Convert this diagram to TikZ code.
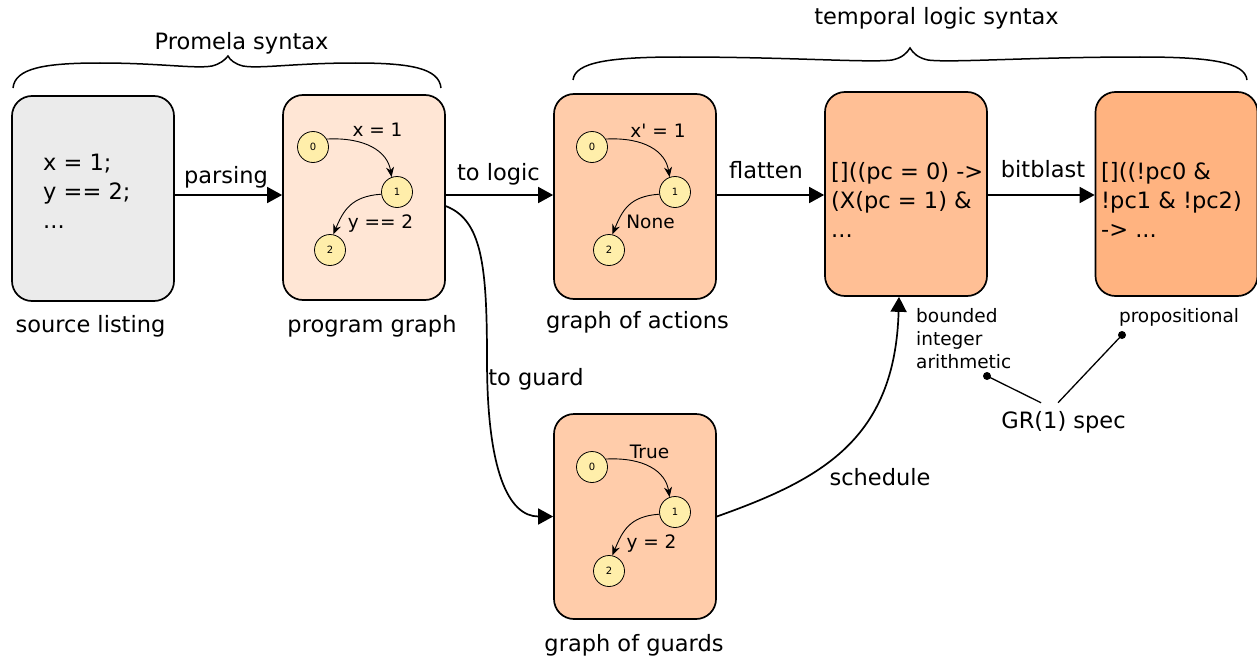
\documentclass[tikz,border=0pt]{standalone}
\usepackage{fontspec}
\setmainfont{DejaVu Sans}[Ligatures=TeXOff]
\usetikzlibrary{arrows.meta,calc}

\definecolor{greybox}{HTML}{EBEBEB}
\definecolor{peachA}{HTML}{FFE6D5}
\definecolor{peachB}{HTML}{FFCCAA}
\definecolor{peachC}{HTML}{FFBF95}
\definecolor{peachD}{HTML}{FFB380}
\definecolor{statefill}{HTML}{FFEEAA}

\begin{document}
\begin{tikzpicture}[x=1pt,y=-1pt,
  stage/.style={draw, line width=1.7pt, rounded corners=20pt,
    minimum width=162pt, minimum height=205pt, inner sep=0pt},
  bigfont/.style={font=\fontsize{22.5}{29}\selectfont},
  smallfont/.style={font=\fontsize{18.5}{23}\selectfont},
  lbl/.style={bigfont, inner sep=0pt, anchor=base},
  boxtext/.style={bigfont, inner sep=0pt, anchor=north west, align=left},
  glabel/.style={smallfont, inner sep=0pt, anchor=base},
  state/.style={circle, draw, line width=0.8pt, fill=statefill,
    minimum size=31pt, inner sep=0pt, font=\fontsize{10}{12}\selectfont},
  trans/.style={-{Stealth[length=10pt,width=8pt]}, line width=0.9pt},
  flow/.style={-{Triangle[length=15pt,width=16pt]}, line width=1.7pt},
  brace/.style={line width=1.5pt},
  pin/.style={line width=1.3pt}]

\useasboundingbox (0,0) rectangle (1257,661);

% processing stages
\node[stage, fill=greybox] (src)    at (93,198.5)  {};
\node[stage, fill=peachA]  (prog)   at (364,197.5) {};
\node[stage, fill=peachB]  (act)    at (635,196.5) {};
\node[stage, fill=peachC, minimum height=204pt] (flat) at (906,194) {};
\node[stage, fill=peachD, minimum height=204pt] (bits) at (1176.5,194) {};
\node[stage, fill=peachB]  (guards) at (635,516.5) {};

% contents of the text stages
\node[boxtext] (srctxt)  at (43,153.5) {x = 1;\\y == 2;\\...};
\node[boxtext] (flattxt) at (831,162)  {[]((pc = 0) ->\\(X(pc = 1) \&\\...};
\node[boxtext] (bitstxt) at (1101,162) {[]((!pc0 \&\\!pc1 \& !pc2)\\-> ...};

% program graph
\node[state] (pg0) at (313,147) {0};
\node[state] (pg1) at (397,192) {1};
\node[state] (pg2) at (330,250) {2};
\draw[trans] (pg0.30) .. controls +(38,-2) and +(-4,-26) .. (pg1.110);
\draw[trans] (pg1.188) .. controls +(-30,2) and +(10,-24) .. (pg2.78);
\node[glabel] (pgl1) at (377.5,136) {x = 1};
\node[glabel] (pgl2) at (380.5,228) {y == 2};

% graph of actions
\node[state] (ac0) at (592,147) {0};
\node[state] (ac1) at (675,192) {1};
\node[state] (ac2) at (609,250) {2};
\draw[trans] (ac0.30) .. controls +(38,-2) and +(-4,-26) .. (ac1.110);
\draw[trans] (ac1.188) .. controls +(-30,2) and +(10,-24) .. (ac2.78);
\node[glabel] (acl1) at (658,137) {x' = 1};
\node[glabel] (acl2) at (650.5,228) {None};

% graph of guards
\node[state] (gd0) at (592,467) {0};
\node[state] (gd1) at (675,512) {1};
\node[state] (gd2) at (609,571) {2};
\draw[trans] (gd0.30) .. controls +(38,-2) and +(-4,-26) .. (gd1.110);
\draw[trans] (gd1.188) .. controls +(-30,2) and +(10,-24) .. (gd2.78);
\node[glabel] (gdl1) at (649.5,458) {True};
\node[glabel] (gdl2) at (651.5,548) {y = 2};

% stage captions
\node[lbl] (capsrc)  at (90.5,332)  {source listing};
\node[lbl] (capprog) at (372,332)   {program graph};
\node[lbl] (capact)  at (637.5,328) {graph of actions};
\node[lbl] (capgd)   at (634,651)   {graph of guards};

% main pipeline
\coordinate (row) at (0,195);
\draw[flow] (src.east |- row)  -- (prog.west |- row);
\draw[flow] (prog.east |- row) -- (act.west |- row);
\draw[flow] (act.east |- row)  -- (flat.west |- row);
\draw[flow] (flat.east |- row) -- (bits.west |- row);
\node[lbl] (lparse)   at (226,183)   {parsing};
\node[lbl] (llogic)   at (498.5,180) {to logic};
\node[lbl] (lflatten) at (766,178)   {flatten};
\node[lbl] (lbits)    at (1043,177)  {bitblast};

% guard branch
\coordinate (bend) at (487,360);
\draw[flow] (prog.-6) .. controls +(36,14) and +(0,-95) .. (bend)
  .. controls +(0,110) and +(-45,0) .. (guards.west);
\node[lbl] (lguard) at (536,385) {to guard};
\draw[flow] (guards.east) .. controls +(104,-37) and +(-4,143) .. ($(flat.south)+(-7,0)$);
\node[lbl] (lsched) at (880,485) {schedule};

% syntax braces
\draw[brace] (13,88) .. controls (15,68) and (45,63) .. (100,63)
  .. controls (160,63) and (195,69) .. (212,66)
  .. controls (220,64) and (225,60) .. (228,56)
  .. controls (230,60) and (235,64) .. (243,66)
  .. controls (260,69) and (295,63) .. (355,63)
  .. controls (410,63) and (439,68) .. (441,88);
\node[lbl] (lprom) at (241.5,49) {Promela syntax};

\draw[brace] (573,80) .. controls (575,62) and (610,57) .. (680,57)
  .. controls (790,57) and (870,63) .. (892,60)
  .. controls (902,58) and (907,53) .. (910,48)
  .. controls (913,53) and (918,58) .. (928,60)
  .. controls (950,63) and (1030,57) .. (1140,57)
  .. controls (1210,57) and (1245,62) .. (1247,80);
\node[lbl] (ltemp) at (936.5,25) {temporal logic syntax};

% specification annotations
\node[smallfont, inner sep=0pt, anchor=north west, align=left] (bia) at (916,308)
  {bounded\\integer\\arithmetic};
\node[glabel] (prop) at (1179,322) {propositional};
\node[lbl] (gr) at (1063.5,428) {GR(1) spec};
\coordinate (dotA) at (987,376);
\coordinate (dotB) at (1122,335);
\draw[pin] ($(gr.north)+(-22.5,-8)$) -- (dotA);
\draw[pin] ($(gr.north)+(-5.5,-8)$) -- (dotB);
\fill (dotA) circle (4pt);
\fill (dotB) circle (4pt);
\end{tikzpicture}
\end{document}
